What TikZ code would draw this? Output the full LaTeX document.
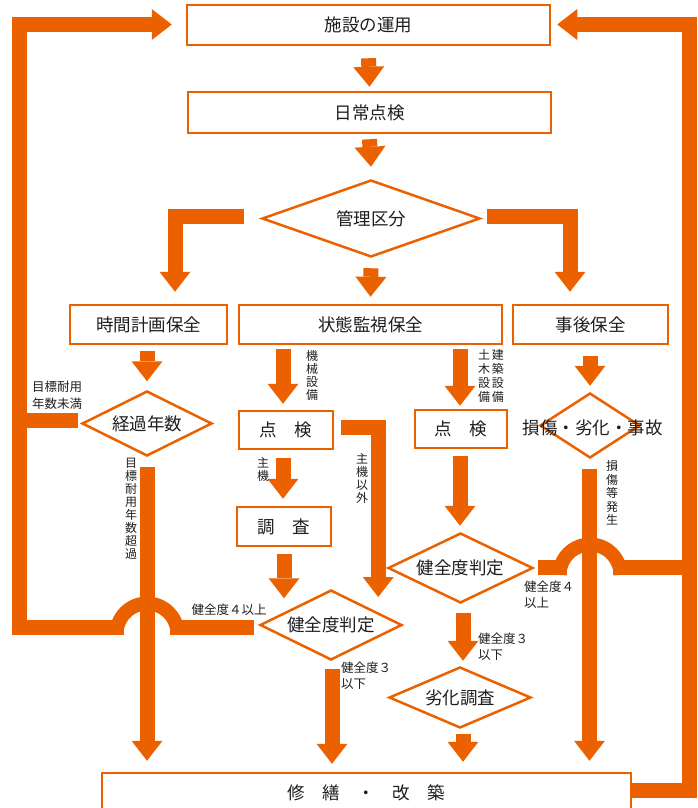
\documentclass[tikz,border=0pt]{standalone}
\usepackage{fontspec}
\setmainfont{Noto Sans CJK JP}
\usetikzlibrary{arrows.meta,shapes.geometric,calc}
\definecolor{org}{RGB}{235,97,0}
\definecolor{txt}{RGB}{30,30,30}
\begin{document}
\begin{tikzpicture}[x=1pt,y=1pt,
  box/.style={draw=org,line width=2.5pt,fill=white,inner sep=0pt,text=txt,font=\fontsize{17.5}{19}\selectfont},
  dia/.style={draw=org,line width=2.5pt,fill=white,shape=diamond,inner sep=0pt,text=txt,font=\fontsize{17.5}{19}\selectfont},
  lbl/.style={text=txt,font=\fontsize{12.5}{16}\selectfont,inner sep=0pt,align=left},
  vlbl/.style={text=txt,font=\fontsize{12}{13}\selectfont,inner sep=0pt,align=center},
  barrow/.style={draw=org,line width=15pt,-{Triangle[width=31pt,length=20pt,line width=0pt]}},
  bar/.style={draw=org,line width=15pt},
  hop/.style={draw=org,line width=14pt},
]
\useasboundingbox (0,0) rectangle (697,-808);
% boxes and decisions
\node[box,minimum width=363pt,minimum height=40pt] (run) at (368.5,-25) {施設の運用};
\node[box,minimum width=363pt,minimum height=41pt] (daily) at (369.5,-112.5) {日常点検};
\node[dia,aspect=2.83,minimum width=218pt,minimum height=77pt] (mgmt) at (371,-218.5) {管理区分};
\node[box,minimum width=157pt,minimum height=39pt] (tbm) at (148.5,-324.5) {時間計画保全};
\node[box,minimum width=263pt,minimum height=39pt] (cbm) at (370.5,-324.5) {状態監視保全};
\node[box,minimum width=155pt,minimum height=39pt] (bm) at (590.5,-324.5) {事後保全};
\node[dia,aspect=2,minimum width=130pt,minimum height=65pt] (age) at (147,-423.5) {経過年数};
\node[box,minimum width=94pt,minimum height=38pt] (insL) at (286,-430) {点　検};
\node[box,minimum width=94pt,minimum height=39pt] (survey) at (284,-526.5) {調　査};
\node[box,minimum width=92pt,minimum height=38pt] (insR) at (461,-429) {点　検};
\node[dia,aspect=1.54,minimum width=100pt,minimum height=65pt] (dmg) at (590,-425.5) {};
\node[text=txt,font=\fontsize{17.5}{19}\selectfont,inner sep=0pt] (dmgt) at (592.5,-428) {損傷・劣化・事故};
\node[dia,aspect=2.03,minimum width=142pt,minimum height=70pt] (hjL) at (331,-625) {健全度判定};
\node[dia,aspect=2.07,minimum width=145pt,minimum height=70pt] (hjR) at (460.5,-568) {健全度判定};
\node[dia,aspect=2.33,minimum width=142pt,minimum height=61pt] (deg) at (460,-697.5) {劣化調査};
\node[box,minimum width=529pt,minimum height=40pt] (rep) at (366.5,-793) {修　繕　・　改　築};
% straight block arrows
\draw[barrow] ([yshift=-12pt]run.south) -- ([yshift=4pt]daily.north);
\draw[barrow] ([yshift=-5pt]daily.south) -- ([yshift=12pt]mgmt.north);
\draw[barrow] ([yshift=-10pt]mgmt.south) -- ([yshift=7pt]cbm.north);
\draw[barrow] ([xshift=-17pt,yshift=2pt]mgmt.west) -| ($(tbm.north)+(26.5,12)$);
\draw[barrow] ([xshift=6pt,yshift=2pt]mgmt.east) -| ($(bm.north)+(-20.5,12)$);
\draw[barrow] ($(tbm.south)+(-1.5,-6)$) -- ($(age.north)+(0,8.5)$);
\draw[barrow] ($(insL.north)+(-3,61)$) -- ($(insL.north)+(-3,6)$);
\draw[barrow] ($(insR.north)+(-1,60)$) -- ($(insR.north)+(-1,3)$);
\draw[barrow] ($(dmg.north)+(0,36)$) -- ($(dmg.north)+(0,6)$);
\draw[barrow] ($(insL.south)+(-3,-8)$) -- ($(survey.north)+(-1,7)$);
\draw[barrow] ($(survey.south)+(0,-7)$) -- ($(survey.south)+(0,-51)$);
\draw[barrow] ($(insL.east)+(7,2.5)$) -| ($(insL.east)+(44,-167)$);
\draw[barrow] ($(insR.south)+(-1,-7)$) -- ($(hjR.north)+(-0.5,6)$);
\draw[barrow] ($(hjR.south)+(2.5,-9)$) -- ($(deg.north)+(3,5)$);
\draw[barrow] ($(deg.south)+(3,-5)$) -- ($(rep.north)+(96.5,10)$);
\draw[barrow] ($(hjL.south)+(1,-8)$) -- ($(rep.north)+(-34.5,8)$);
\draw[barrow] ($(age.south)+(0,-10)$) -- ($(rep.north)+(-219.5,11)$);
\draw[barrow] ($(dmg.south)+(-0.5,-10)$) -- ($(rep.north)+(223,11)$);
% left return loop
\draw[bar] ($(age.west)+(-3,3)$) -- (19,-420.5);
\draw[bar] ($(hjL.west)+(-5,-2.5)$) -- (170,-627.5);
\draw[hop] (177.5,-634) arc[start angle=0,end angle=180,radius=30.5pt];
\draw[barrow] (124,-627.5) -- (19,-627.5) -- (19,-24.5) -- ($(run.west)+(-14,0.5)$);
% right return loop
\draw[bar] ($(hjR.east)+(4,0.5)$) -- (567,-567.5);
\draw[hop] (620.5,-575) arc[start angle=0,end angle=180,radius=30.5pt];
\draw[bar] (613,-567.5) -- (689.5,-567.5);
\draw[barrow] ($(rep.east)+(0,2.5)$) -- (689.5,-790.5) -- (689.5,-24.5) -- ($(run.east)+(6,0.5)$);
% labels
\node[lbl,align=center,font=\fontsize{12.5}{17}\selectfont] (l1) at (57,-395) {目標耐用\\年数未満};
\node[vlbl] (l2) at (131,-509) {目\\標\\耐\\用\\年\\数\\超\\過};
\node[vlbl] (l3) at (312,-375) {機\\械\\設\\備};
\node[text=txt,font=\fontsize{12}{13}\selectfont,inner sep=0pt] (l4) at (491,-377.5) {\renewcommand\arraystretch{1}\begin{tabular}{@{}c@{\hspace{2pt}}c@{}}土&建\\木&築\\設&設\\備&備\end{tabular}};
\node[vlbl] (l5) at (263,-469) {主\\機};
\node[vlbl] (l6) at (362,-478) {主\\機\\以\\外};
\node[vlbl,font=\fontsize{12}{13.5}\selectfont] (l7) at (612,-493) {損\\傷\\等\\発\\生};
\node[lbl] (l8) at (229,-610) {健全度４以上};
\node[lbl,anchor=north west] (l9) at (341,-662) {健全度３\\以下};
\node[lbl,anchor=north west] (l10) at (524,-581) {健全度４\\以上};
\node[lbl,anchor=north west] (l11) at (478,-633) {健全度３\\以下};
\end{tikzpicture}
\end{document}
